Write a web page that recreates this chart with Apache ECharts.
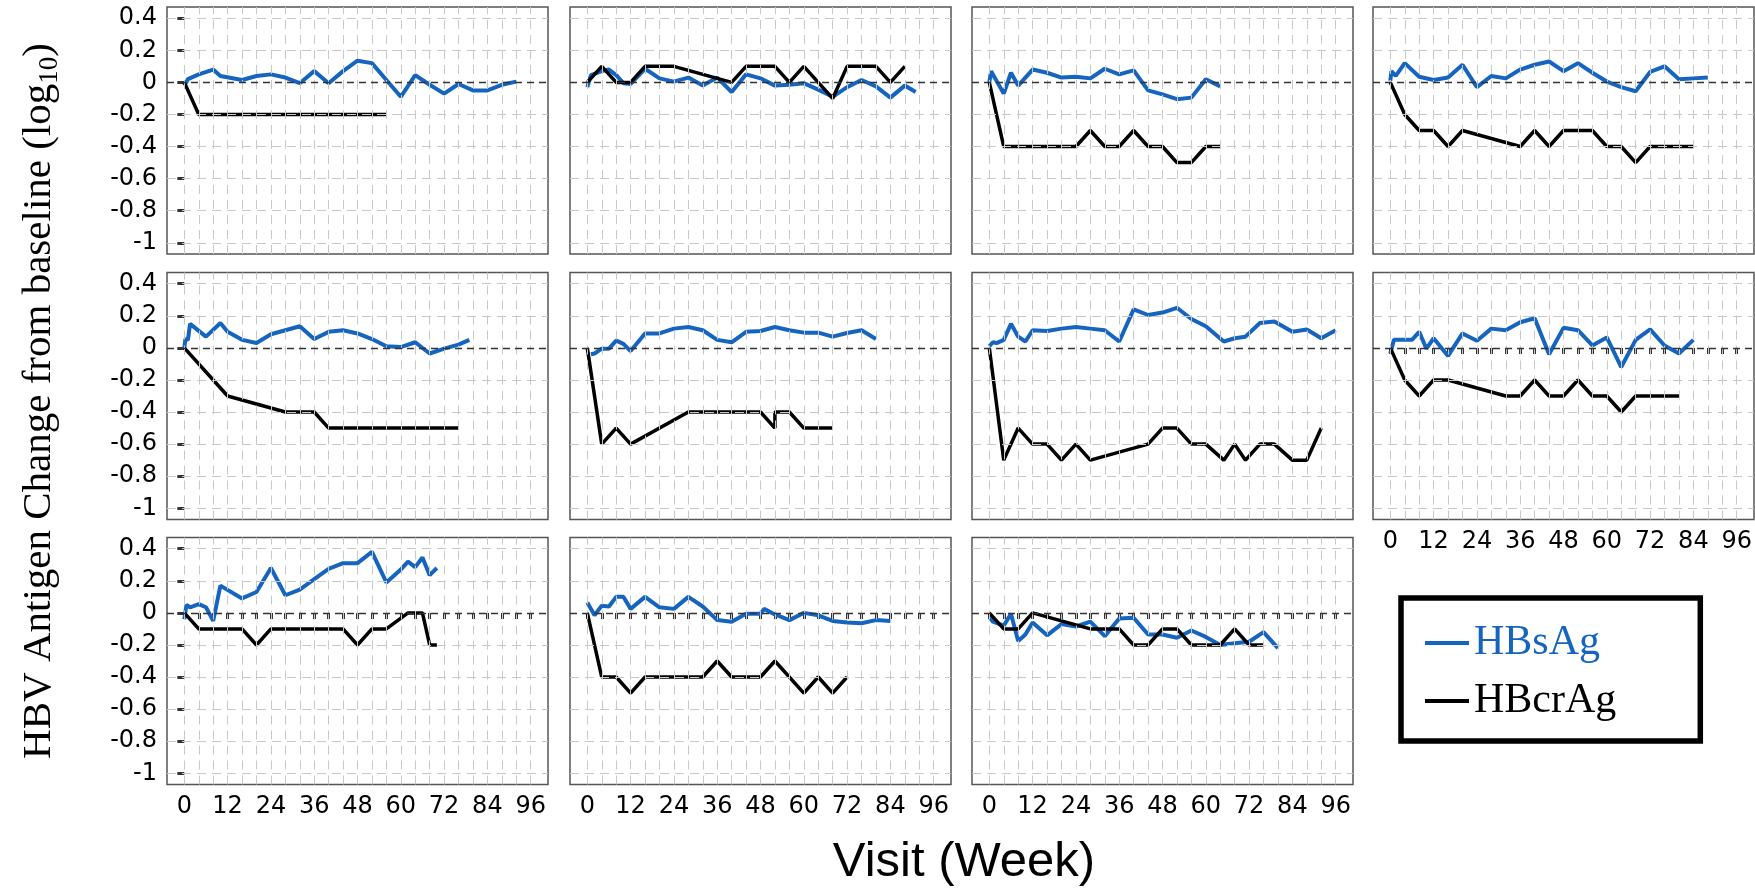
<!DOCTYPE html>
<html>
<head>
<meta charset="utf-8">
<script src="https://cdn.jsdelivr.net/npm/echarts@6/dist/echarts.min.js"></script>
<style>
html,body{margin:0;padding:0;background:#fff;}
#chart{width:1755px;height:889px;}
</style>
</head>
<body>
<div id="chart"></div>
<script>
// ---- tick values / labels ----
const weekTicks = [0,4,8,12,16,20,24,28,32,36,40,44,48,52,56,60,64,68,72,76,80,84,88,92,96];
const weekLabels = [0,12,24,36,48,60,72,84,96];
const yTicks = [0.4,0.2,0,-0.2,-0.4,-0.6,-0.8,-1];
const seriesNames = ['HBsAg','HBcrAg'];

// ---- data: [week, change from baseline (log10)] ----
const p1_hbsag = [[0,-0.02],[1,0.02],[4,0.05],[8,0.08],[10,0.04],[16,0.015],[20,0.04],[24,0.05],[28,0.03],[32,-0.005],[36,0.07],[40,-0.005],[44,0.07],[48,0.135],[52,0.12],[56,0.015],[60,-0.09],[64,0.045],[68,-0.015],[72,-0.07],[76,-0.01],[80,-0.05],[84,-0.05],[88,-0.015],[92,0.005]];
const p1_hbcrag = [[0,0],[4,-0.2],[56,-0.2]];

const p2_hbsag = [[0,-0.03],[1,0.045],[4,0.07],[6,0.08],[8,0.045],[10,-0.005],[12,-0.01],[16,0.085],[20,0.025],[24,0.005],[28,0.03],[32,-0.02],[36,0.03],[40,-0.06],[44,0.05],[48,0.025],[52,-0.02],[56,-0.015],[60,-0.005],[64,-0.045],[68,-0.09],[72,-0.03],[76,0.015],[80,-0.025],[84,-0.095],[88,-0.02],[91,-0.06]];
const p2_hbcrag = [[0,0],[4,0.1],[8,0],[12,0],[16,0.1],[24,0.1],[40,0],[44,0.1],[52,0.1],[56,0],[60,0.1],[68,-0.1],[72,0.1],[80,0.1],[84,0],[88,0.1]];

const p3_hbsag = [[0,0],[0.5,0.07],[4,-0.07],[6,0.06],[8,-0.02],[12,0.08],[16,0.06],[20,0.03],[24,0.035],[28,0.025],[32,0.085],[36,0.05],[40,0.075],[44,-0.05],[48,-0.075],[52,-0.105],[56,-0.095],[60,0.02],[64,-0.025]];
const p3_hbcrag = [[0,0],[4,-0.4],[24,-0.4],[28,-0.3],[32,-0.4],[36,-0.4],[40,-0.3],[44,-0.4],[48,-0.4],[52,-0.5],[56,-0.5],[60,-0.4],[64,-0.4]];

const p4_hbsag = [[0,0.01],[0.3,0.07],[1.5,0.04],[4,0.12],[8,0.035],[12,0.015],[16,0.03],[20,0.11],[24,-0.03],[28,0.04],[32,0.025],[36,0.08],[40,0.11],[44,0.13],[48,0.07],[52,0.12],[56,0.06],[60,0.005],[64,-0.03],[68,-0.055],[72,0.065],[76,0.1],[80,0.02],[84,0.025],[88,0.03]];
const p4_hbcrag = [[0,0],[4,-0.2],[8,-0.3],[12,-0.3],[16,-0.4],[20,-0.3],[36,-0.4],[40,-0.3],[44,-0.4],[48,-0.3],[56,-0.3],[60,-0.4],[64,-0.4],[68,-0.5],[72,-0.4],[84,-0.4]];

const p5_hbsag = [[0,0],[0.3,0.055],[1,0.05],[1.6,0.15],[6,0.07],[10,0.155],[12,0.1],[16,0.05],[20,0.03],[24,0.085],[28,0.11],[32,0.135],[36,0.055],[40,0.1],[44,0.11],[48,0.09],[52,0.055],[56,0.01],[60,0.005],[64,0.035],[68,-0.035],[72,-0.005],[76,0.02],[79,0.05]];
const p5_hbcrag = [[0,0],[12,-0.3],[28,-0.4],[36,-0.4],[40,-0.5],[76,-0.5]];

const p6_hbsag = [[1,-0.04],[2,-0.035],[4,-0.005],[6,-0.005],[8,0.045],[10,0.025],[12,-0.02],[16,0.09],[20,0.09],[24,0.12],[28,0.13],[32,0.11],[36,0.05],[40,0.035],[44,0.1],[48,0.105],[52,0.13],[56,0.11],[60,0.095],[64,0.095],[68,0.07],[72,0.093],[76,0.11],[80,0.055]];
const p6_hbcrag = [[0,0],[4,-0.6],[8,-0.5],[12,-0.6],[28,-0.4],[48,-0.4],[52,-0.5],[52,-0.4],[56,-0.4],[60,-0.5],[68,-0.5]];

const p7_hbsag = [[0,0.01],[1,0.035],[2,0.03],[4,0.05],[6,0.15],[8,0.07],[10,0.04],[12,0.11],[16,0.105],[20,0.12],[24,0.13],[28,0.12],[32,0.11],[36,0.04],[40,0.24],[44,0.205],[48,0.22],[52,0.25],[56,0.18],[60,0.135],[65,0.04],[68,0.06],[71,0.07],[75,0.155],[79,0.165],[84,0.1],[88,0.115],[92,0.06],[96,0.11]];
const p7_hbcrag = [[0,0],[4,-0.7],[8,-0.5],[12,-0.6],[16,-0.6],[20,-0.7],[24,-0.6],[28,-0.7],[44,-0.6],[48,-0.5],[52,-0.5],[56,-0.6],[60,-0.6],[65,-0.7],[68,-0.6],[71,-0.7],[75,-0.6],[79,-0.6],[84,-0.7],[88,-0.7],[92,-0.5]];

const p8_hbsag = [[0,-0.035],[1,0.05],[4,0.05],[6,0.05],[8,0.1],[10,-0.005],[12,0.06],[16,-0.05],[20,0.09],[24,0.045],[28,0.12],[32,0.11],[36,0.16],[40,0.185],[44,-0.04],[48,0.125],[52,0.11],[56,0.015],[60,0.065],[64,-0.12],[68,0.05],[72,0.115],[76,0.015],[80,-0.035],[84,0.05]];
const p8_hbcrag = [[0,0],[4,-0.2],[8,-0.3],[12,-0.2],[16,-0.2],[32,-0.3],[36,-0.3],[40,-0.2],[44,-0.3],[48,-0.3],[52,-0.2],[56,-0.3],[60,-0.3],[64,-0.4],[68,-0.3],[80,-0.3]];

const p9_hbsag = [[0,-0.04],[0.6,0.05],[1.6,0.035],[4,0.055],[6,0.035],[8,-0.05],[10,0.17],[16,0.09],[20,0.13],[24,0.28],[28,0.11],[32,0.145],[36,0.21],[40,0.275],[44,0.31],[48,0.31],[52,0.38],[56,0.19],[60,0.27],[62,0.32],[64,0.285],[66,0.345],[68,0.235],[70,0.28]];
const p9_hbcrag = [[0,0],[4,-0.1],[16,-0.1],[20,-0.2],[24,-0.1],[44,-0.1],[48,-0.2],[52,-0.1],[56,-0.1],[62,0],[66,0],[68,-0.2],[70,-0.2]];

const p10_hbsag = [[0,0.065],[2,-0.015],[4,0.045],[6,0.04],[8,0.1],[10,0.1],[12,0.025],[16,0.1],[20,0.035],[24,0.025],[28,0.1],[32,0.04],[36,-0.045],[40,-0.055],[44,-0.005],[48,-0.005],[49,0.025],[52,-0.01],[56,-0.045],[60,0],[64,-0.015],[68,-0.05],[72,-0.06],[76,-0.065],[80,-0.045],[84,-0.05]];
const p10_hbcrag = [[0,0],[4,-0.4],[8,-0.4],[12,-0.5],[16,-0.4],[32,-0.4],[36,-0.3],[40,-0.4],[48,-0.4],[52,-0.3],[60,-0.5],[64,-0.4],[68,-0.5],[72,-0.4]];

const p11_hbsag = [[0,-0.025],[1,-0.055],[4,-0.08],[6,-0.005],[8,-0.175],[10,-0.135],[12,-0.06],[16,-0.14],[20,-0.07],[24,-0.085],[28,-0.055],[32,-0.145],[36,-0.035],[40,-0.03],[44,-0.135],[48,-0.135],[52,-0.155],[56,-0.11],[60,-0.15],[64,-0.2],[68,-0.19],[72,-0.18],[76,-0.12],[80,-0.22]];
const p11_hbcrag = [[0,0],[4,-0.1],[8,-0.1],[12,0],[28,-0.1],[36,-0.1],[40,-0.2],[44,-0.2],[48,-0.1],[52,-0.1],[56,-0.2],[64,-0.2],[68,-0.1],[72,-0.2],[76,-0.2]];

const panels = [
  [p1_hbsag,p1_hbcrag],[p2_hbsag,p2_hbcrag],[p3_hbsag,p3_hbcrag],[p4_hbsag,p4_hbcrag],
  [p5_hbsag,p5_hbcrag],[p6_hbsag,p6_hbcrag],[p7_hbsag,p7_hbcrag],[p8_hbsag,p8_hbcrag],
  [p9_hbsag,p9_hbcrag],[p10_hbsag,p10_hbcrag],[p11_hbsag,p11_hbcrag]
];

// ---- layout / style ----
const BLUE = '#1565c0';
const colLeft = [167, 570, 972, 1373];
const rowTop = [7, 272.5, 537.5];
const PW = 381, PH = 247;
const XMIN = -4.8, XMAX = 100.8, YMIN = -1.07, YMAX = 0.47;
const showXLabels = [7, 8, 9, 10];
const tickFont = {fontFamily: 'DejaVu Sans', fontSize: 24, color: '#000'};

const grids = [], xAxes = [], yAxes = [], series = [];
panels.forEach((p, i) => {
  const r = Math.floor(i / 4), c = i % 4;
  grids.push({
    left: colLeft[c], top: rowTop[r], width: PW, height: PH,
    show: true, borderColor: '#555', borderWidth: 1.5, backgroundColor: '#fff',
    containLabel: false, outerBoundsMode: 'none'
  });
  const xLab = showXLabels.includes(i);
  xAxes.push({
    type: 'value', gridIndex: i, min: XMIN, max: XMAX,
    axisLine: {show: false}, splitLine: {show: false},
    axisTick: {show: xLab, customValues: weekTicks, length: 6, lineStyle: {color: '#333', width: 3}},
    axisLabel: Object.assign({show: xLab, customValues: weekLabels, margin: 10, formatter: v => String(v)}, tickFont)
  });
  const yLab = c === 0;
  yAxes.push({
    type: 'value', gridIndex: i, min: YMIN, max: YMAX,
    axisLine: {show: false}, splitLine: {show: false},
    axisTick: {show: yLab, customValues: yTicks, length: 7, lineStyle: {color: '#333', width: 3}},
    axisLabel: Object.assign({show: yLab, customValues: yTicks, margin: 10,
      formatter: v => String(Math.round(v * 10) / 10)}, tickFont)
  });
  const gridLines = [];
  weekTicks.forEach(w => gridLines.push({xAxis: w, lineStyle: {color: '#c8c8c8', width: 1, type: [9, 6]}}));
  yTicks.filter(v => v !== 0).forEach(v => gridLines.push({yAxis: v, lineStyle: {color: '#c8c8c8', width: 1, type: [9, 6]}}));
  gridLines.push({yAxis: 0, lineStyle: {color: '#333', width: 1.3, type: [7, 5]}});
  series.push({
    type: 'line', xAxisIndex: i, yAxisIndex: i, data: [[-100, -100]], symbol: 'none',
    silent: true, z: 1, lineStyle: {width: 0},
    markLine: {silent: true, symbol: ['none', 'none'], animation: false, label: {show: false},
      emphasis: {disabled: true}, data: gridLines}
  });
  series.push({
    name: seriesNames[0], type: 'line', xAxisIndex: i, yAxisIndex: i, data: p[0],
    symbol: 'none', showSymbol: false, z: 3, lineStyle: {color: BLUE, width: 4},
    itemStyle: {color: BLUE}, emphasis: {disabled: true}
  });
  series.push({
    name: seriesNames[1], type: 'line', xAxisIndex: i, yAxisIndex: i, data: p[1],
    symbol: 'none', showSymbol: false, z: 4, lineStyle: {color: '#000', width: 3.5},
    itemStyle: {color: '#000'}, emphasis: {disabled: true}
  });
});

const chart = echarts.init(document.getElementById('chart'), null, {renderer: 'canvas'});
chart.setOption({
  animation: false,
  backgroundColor: '#fff',
  grid: grids, xAxis: xAxes, yAxis: yAxes, series: series,
  legend: {
    orient: 'vertical', left: 1401, top: 598,
    padding: [24, 84, 19, 24], itemGap: 16, itemWidth: 44, itemHeight: 4, icon: 'rect',
    borderColor: '#000', borderWidth: 5.5, backgroundColor: '#fff',
    selectedMode: false,
    textStyle: {fontFamily: 'Liberation Serif', fontSize: 42},
    data: [
      {name: seriesNames[0], textStyle: {color: BLUE}},
      {name: seriesNames[1], textStyle: {color: '#000'}}
    ]
  },
  graphic: [
    {type: 'text', x: 39, y: 401, rotation: Math.PI / 2,
     style: {text: '{a|HBV Antigen Change from baseline (log}{s|10}{a|)}', align: 'center', verticalAlign: 'middle',
       rich: {a: {fontFamily: 'Liberation Serif', fontSize: 41, fill: '#000'},
              s: {fontFamily: 'Liberation Serif', fontSize: 27, lineHeight: 27, fill: '#000', padding: [21, 0, 0, 0]}}}},
    {type: 'text', x: 964, y: 862,
     style: {text: 'Visit (Week)', fontFamily: 'Liberation Sans', fontSize: 49, fill: '#000', align: 'center', verticalAlign: 'middle'}}
  ]
});
</script>
</body>
</html>
